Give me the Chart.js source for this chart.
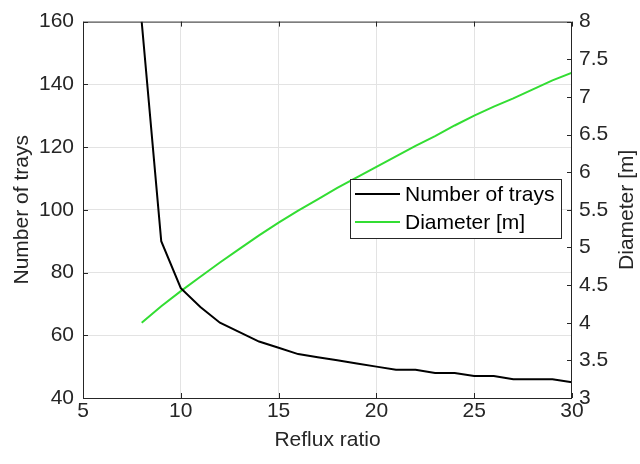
<!DOCTYPE html>
<html>
<head>
<meta charset="utf-8">
<script src="https://cdn.jsdelivr.net/npm/chart.js@4/dist/chart.umd.min.js"></script>
<style>
  body { margin: 0; background: #fff; }
  canvas { display: block; }
</style>
</head>
<body>
<canvas id="myChart" width="640" height="464"></canvas>
<script>
const refluxRatio = [8, 9, 10, 11, 12, 13, 14, 15, 16, 17, 18, 19, 20, 21, 22, 23, 24, 25, 26, 27, 28, 29, 30];
const trays = [160, 90, 75, 69, 64, 61, 58, 56, 54, 53, 52, 51, 50, 49, 49, 48, 48, 47, 47, 46, 46, 46, 45];
const diameter = [4.00, 4.22, 4.42, 4.61, 4.80, 4.98, 5.16, 5.33, 5.49, 5.64, 5.79, 5.93, 6.07,
                  6.21, 6.35, 6.48, 6.62, 6.75, 6.87, 6.98, 7.10, 7.22, 7.32];
const xTicks = [5, 10, 15, 20, 25, 30];
const seriesNames = ['Number of trays', 'Diameter [m]'];
const axisTitles = { x: 'Reflux ratio', y: 'Number of trays', y1: 'Diameter [m]' };

const FONT = '"Liberation Sans", Arial, sans-serif';
const TXT = '#262626';
const GREEN = '#33dd33';

// grid lines only inside the box, not on the box edges
const innerGrid = (ctx) => {
  const s = ctx.scale;
  return (ctx.tick && (ctx.tick.value === s.min || ctx.tick.value === s.max)) ? 'rgba(0,0,0,0)' : '#e3e3e3';
};

const matlabBox = {
  id: 'matlabBox',
  afterDraw(chart) {
    const { ctx, chartArea: a, scales } = chart;
    ctx.save();
    ctx.strokeStyle = TXT;
    ctx.lineWidth = 1;
    ctx.beginPath();
    ctx.rect(a.left + 0.5, a.top + 0.5, a.right - a.left - 1, a.bottom - a.top);
    // inward ticks
    const t = 5;
    scales.x.ticks.forEach(tk => {
      const px = Math.round(scales.x.getPixelForValue(tk.value)) + 0.5;
      ctx.moveTo(px, a.bottom); ctx.lineTo(px, a.bottom - t);
      ctx.moveTo(px, a.top); ctx.lineTo(px, a.top + t);
    });
    scales.y.ticks.forEach(tk => {
      const py = Math.round(scales.y.getPixelForValue(tk.value)) + 0.5;
      ctx.moveTo(a.left, py); ctx.lineTo(a.left + t, py);
    });
    scales.y1.ticks.forEach(tk => {
      const py = Math.round(scales.y1.getPixelForValue(tk.value)) + 0.5;
      ctx.moveTo(a.right, py); ctx.lineTo(a.right - t, py);
    });
    ctx.stroke();

    // axis titles
    ctx.fillStyle = TXT;
    ctx.font = '21px ' + FONT;
    ctx.textAlign = 'center';
    ctx.textBaseline = 'middle';
    ctx.fillText(axisTitles.x, (a.left + a.right) / 2, 440);
    const cy = (a.top + a.bottom) / 2;
    ctx.save(); ctx.translate(22, cy); ctx.rotate(-Math.PI / 2);
    ctx.fillText(axisTitles.y, 0, 0); ctx.restore();
    ctx.save(); ctx.translate(627, cy); ctx.rotate(-Math.PI / 2);
    ctx.fillText(axisTitles.y1, 0, 0); ctx.restore();

    // legend
    const lx = 350, ly = 179, lw = 211, lh = 59;
    ctx.fillStyle = '#fff';
    ctx.fillRect(lx, ly, lw, lh);
    ctx.strokeStyle = TXT;
    ctx.strokeRect(lx + 0.5, ly + 0.5, lw, lh);
    const rows = [194, 222];
    chart.data.datasets.forEach((ds, i) => {
      ctx.strokeStyle = ds.borderColor;
      ctx.lineWidth = 2;
      ctx.beginPath(); ctx.moveTo(355, rows[i]); ctx.lineTo(400, rows[i]); ctx.stroke();
      ctx.fillStyle = '#000';
      ctx.textAlign = 'left';
      ctx.fillText(ds.label, 405, rows[i] + 1);
    });
    ctx.restore();
  }
};

const data = {
  datasets: [
    {
      label: seriesNames[0],
      data: refluxRatio.map((r, i) => ({ x: r, y: trays[i] })),
      borderColor: '#000',
      borderWidth: 2,
      pointRadius: 0,
      yAxisID: 'y'
    },
    {
      label: seriesNames[1],
      data: refluxRatio.map((r, i) => ({ x: r, y: diameter[i] })),
      borderColor: GREEN,
      borderWidth: 2,
      pointRadius: 0,
      yAxisID: 'y1'
    }
  ]
};

const tickFont = { family: FONT, size: 21 };

const config = {
  type: 'line',
  data: data,
  options: {
    responsive: false,
    animation: false,
    layout: { padding: { top: 18, left: 0, right: 0, bottom: 0 } },
    plugins: { legend: { display: false }, tooltip: { enabled: false } },
    scales: {
      x: {
        type: 'linear', min: 5, max: 30,
        afterBuildTicks: s => { s.ticks = xTicks.map(v => ({ value: v })); },
        ticks: { font: tickFont, color: TXT, padding: 1, maxRotation: 0 },
        grid: { color: innerGrid, drawTicks: false },
        border: { display: false },
        afterFit: s => { s.height = 66; }
      },
      y: {
        position: 'left', min: 40, max: 160,
        ticks: { stepSize: 20, font: tickFont, color: TXT, padding: 9 },
        grid: { color: innerGrid, drawTicks: false },
        border: { display: false },
        afterFit: s => { s.width = 83; }
      },
      y1: {
        position: 'right', min: 3, max: 8,
        ticks: { stepSize: 0.5, font: tickFont, color: TXT, padding: 7,
                 callback: v => String(Math.round(v * 10) / 10) },
        grid: { display: false, drawTicks: false },
        border: { display: false },
        afterFit: s => { s.width = 68; }
      }
    }
  },
  plugins: [matlabBox]
};

const myChart = new Chart(document.getElementById('myChart'), config);
</script>
</body>
</html>
